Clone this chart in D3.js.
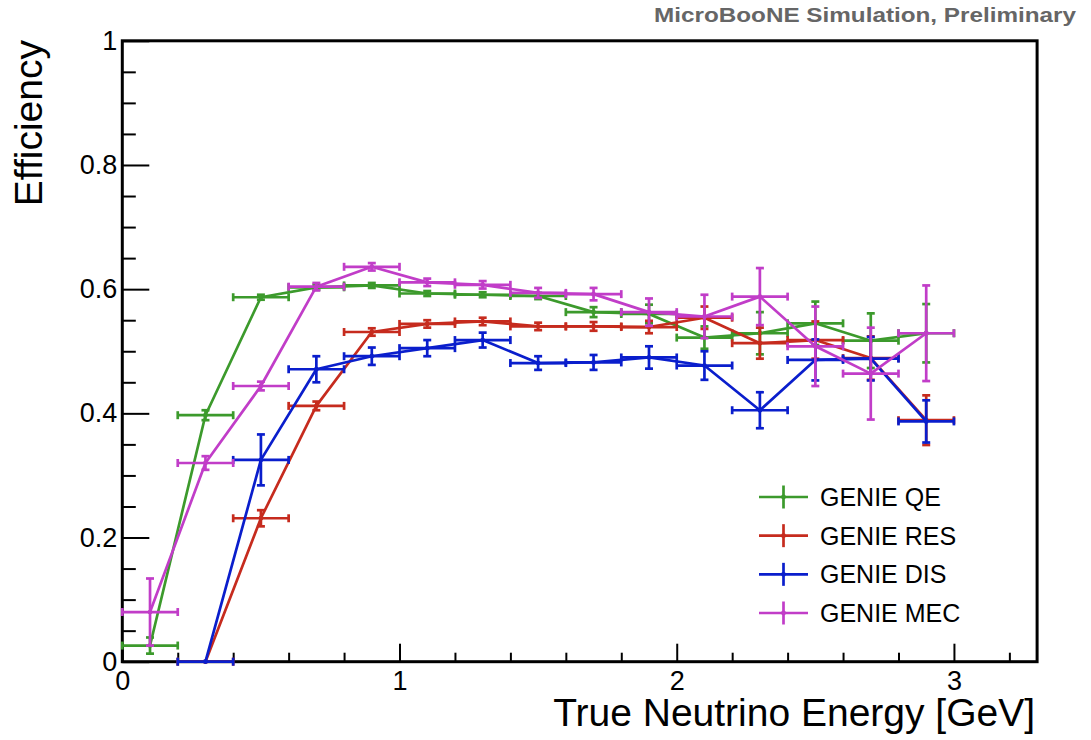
<!DOCTYPE html>
<html>
<head>
<meta charset="utf-8">
<script src="https://cdn.jsdelivr.net/npm/d3@7"></script>
<style>
  html, body { margin: 0; padding: 0; background: #fff; }
  svg { display: block; font-family: "Liberation Sans", Arial, Helvetica, sans-serif; }
</style>
</head>
<body>
<svg id="chart" width="1091" height="740"></svg>
<script>
// Bin centres of true neutrino energy (GeV), each bin 0.2 GeV wide
const binCenters = [0.1, 0.3, 0.5, 0.7, 0.9, 1.1, 1.3, 1.5, 1.7, 1.9, 2.1, 2.3, 2.5, 2.7, 2.9];
const binHalfWidth = 0.1;

// Selection efficiency per interaction mode (null = empty bin)
const qeEff  = [0.026, 0.397, 0.587, 0.603, 0.606, 0.593, 0.591, 0.589, 0.563, 0.560, 0.522, 0.529, 0.545, 0.517, 0.529];
const qeErr  = [0.013, 0.008, 0.004, 0.004, 0.004, 0.004, 0.004, 0.005, 0.008, 0.015, 0.018, 0.034, 0.035, 0.044, 0.047];
const resEff = [null, 0.000, 0.231, 0.412, 0.531, 0.544, 0.548, 0.540, 0.540, 0.539, 0.554, 0.513, 0.518, 0.489, 0.389];
const resErr = [null, 0.000, 0.013, 0.007, 0.006, 0.006, 0.006, 0.006, 0.007, 0.010, 0.018, 0.025, 0.030, 0.035, 0.040];
const disEff = [null, 0.000, 0.325, 0.471, 0.492, 0.505, 0.518, 0.481, 0.482, 0.490, 0.477, 0.405, 0.486, 0.488, 0.387];
const disErr = [null, 0.000, 0.041, 0.021, 0.014, 0.013, 0.012, 0.011, 0.012, 0.018, 0.023, 0.029, 0.033, 0.035, 0.034];
const mecEff = [0.080, 0.320, 0.444, 0.604, 0.636, 0.611, 0.607, 0.594, 0.592, 0.563, 0.556, 0.588, 0.508, 0.464, 0.529];
const mecErr = [0.054, 0.011, 0.007, 0.006, 0.006, 0.006, 0.006, 0.008, 0.010, 0.022, 0.035, 0.046, 0.064, 0.074, 0.077];

const seriesNames  = ["GENIE QE", "GENIE RES", "GENIE DIS", "GENIE MEC"];
const seriesColors = ["#3c9a2c", "#c62b1e", "#0a1ecc", "#c13dc8"];

const xMajorTicks = [0, 1, 2, 3];
const yMajorTicks = [0, 0.2, 0.4, 0.6, 0.8, 1];
const xTickLabels = ["0", "1", "2", "3"];
const yTickLabels = ["0", "0.2", "0.4", "0.6", "0.8", "1"];

const series = [
  { name: seriesNames[0], color: seriesColors[0], eff: qeEff,  err: qeErr  },
  { name: seriesNames[1], color: seriesColors[1], eff: resEff, err: resErr },
  { name: seriesNames[2], color: seriesColors[2], eff: disEff, err: disErr },
  { name: seriesNames[3], color: seriesColors[3], eff: mecEff, err: mecErr }
];

const svg = d3.select("#chart");

const x = d3.scaleLinear().domain([0, 3.3]).range([122.3, 1037.1]);
const y = d3.scaleLinear().domain([0, 1]).range([661.7, 40.8]);

// Title
svg.append("text")
  .attr("x", 1076).attr("y", 22)
  .attr("text-anchor", "end")
  .attr("font-size", 21).attr("font-weight", "bold")
  .attr("fill", "#666")
  .attr("textLength", 422).attr("lengthAdjust", "spacingAndGlyphs")
  .text("MicroBooNE Simulation, Preliminary");

// Minor ticks (drawn inward)
const xMinor = d3.range(0, 3.3001, 0.2).filter(v => Math.abs(v - Math.round(v)) > 1e-6);
const yMinor = d3.range(0, 1.0001, 0.05).filter(v => Math.abs(v * 5 - Math.round(v * 5)) > 1e-6);

const gx = svg.append("g").attr("transform", `translate(0,${y(0)})`);
gx.call(d3.axisBottom(x).tickValues(xMajorTicks).tickSizeInner(-18).tickSizeOuter(0)
  .tickFormat((d, i) => xTickLabels[i]));
gx.append("g").call(d3.axisBottom(x).tickValues(xMinor).tickSizeInner(-9).tickSizeOuter(0).tickFormat(""));

const gy = svg.append("g").attr("transform", `translate(${x(0)},0)`);
gy.call(d3.axisLeft(y).tickValues(yMajorTicks).tickSizeInner(-27).tickSizeOuter(0)
  .tickFormat((d, i) => yTickLabels[i]));
gy.append("g").call(d3.axisLeft(y).tickValues(yMinor).tickSizeInner(-13.5).tickSizeOuter(0).tickFormat(""));

svg.selectAll(".domain").remove();
svg.selectAll(".tick line").attr("stroke", "#000").attr("stroke-width", 2);
svg.selectAll(".tick text").attr("font-size", 27).attr("fill", "#000")
  .attr("font-family", "'Liberation Sans', Arial, sans-serif");
gx.selectAll(".tick text").attr("dy", "0.71em").attr("y", 9);
gy.selectAll(".tick text").attr("x", -5);

// Frame
svg.append("rect")
  .attr("x", x(0)).attr("y", y(1))
  .attr("width", x(3.3) - x(0)).attr("height", y(0) - y(1))
  .attr("fill", "none").attr("stroke", "#000").attr("stroke-width", 3);

// Axis titles
svg.append("text")
  .attr("x", x(3.3) - 2).attr("y", 726)
  .attr("text-anchor", "end").attr("font-size", 39)
  .text("True Neutrino Energy [GeV]");
svg.append("text")
  .attr("transform", "translate(42,40) rotate(-90)")
  .attr("text-anchor", "end").attr("font-size", 39)
  .text("Efficiency");

// Data
const cap = 4;
const lineGen = d3.line()
  .defined(d => d.v !== null)
  .x(d => x(d.c)).y(d => y(d.v));

series.forEach(s => {
  const pts = binCenters.map((c, i) => ({ c, v: s.eff[i], e: s.err[i] }));
  const valid = pts.filter(p => p.v !== null);
  const g = svg.append("g")
    .attr("stroke", s.color).attr("fill", "none")
    .attr("stroke-width", 2.7);

  g.append("path").datum(pts).attr("d", lineGen).attr("stroke-linejoin", "round");

  const bars = g.selectAll("g.pt").data(valid).join("g").attr("class", "pt");
  // horizontal bin-width bar with end caps
  bars.append("line")
    .attr("x1", d => x(d.c - binHalfWidth)).attr("x2", d => x(d.c + binHalfWidth))
    .attr("y1", d => y(d.v)).attr("y2", d => y(d.v));
  bars.append("line")
    .attr("x1", d => x(d.c - binHalfWidth)).attr("x2", d => x(d.c - binHalfWidth))
    .attr("y1", d => y(d.v) - cap).attr("y2", d => y(d.v) + cap);
  bars.append("line")
    .attr("x1", d => x(d.c + binHalfWidth)).attr("x2", d => x(d.c + binHalfWidth))
    .attr("y1", d => y(d.v) - cap).attr("y2", d => y(d.v) + cap);
  // vertical statistical error with caps
  const ve = bars.filter(d => d.e > 0);
  ve.append("line")
    .attr("x1", d => x(d.c)).attr("x2", d => x(d.c))
    .attr("y1", d => y(d.v + d.e)).attr("y2", d => y(Math.max(0, d.v - d.e)));
  ve.append("line")
    .attr("x1", d => x(d.c) - cap).attr("x2", d => x(d.c) + cap)
    .attr("y1", d => y(d.v + d.e)).attr("y2", d => y(d.v + d.e));
  ve.append("line")
    .attr("x1", d => x(d.c) - cap).attr("x2", d => x(d.c) + cap)
    .attr("y1", d => y(Math.max(0, d.v - d.e))).attr("y2", d => y(Math.max(0, d.v - d.e)));
  bars.append("circle")
    .attr("cx", d => x(d.c)).attr("cy", d => y(d.v))
    .attr("r", 2.4).attr("fill", s.color).attr("stroke", "none");
});

// Legend
const legend = svg.append("g");
const legY = d3.scalePoint().domain(seriesNames).range([497, 613]);
series.forEach(s => {
  const ly = legY(s.name);
  const g = legend.append("g").attr("stroke", s.color).attr("stroke-width", 2.7);
  g.append("line").attr("x1", 759).attr("x2", 808).attr("y1", ly).attr("y2", ly);
  g.append("line").attr("x1", 783.5).attr("x2", 783.5).attr("y1", ly - 11.5).attr("y2", ly + 11.5);
  g.append("circle").attr("cx", 783.5).attr("cy", ly).attr("r", 2.4).attr("fill", s.color).attr("stroke", "none");
  legend.append("text")
    .attr("x", 820).attr("y", ly + 9)
    .attr("font-size", 25).attr("fill", "#000")
    .text(s.name);
});
</script>
</body>
</html>
